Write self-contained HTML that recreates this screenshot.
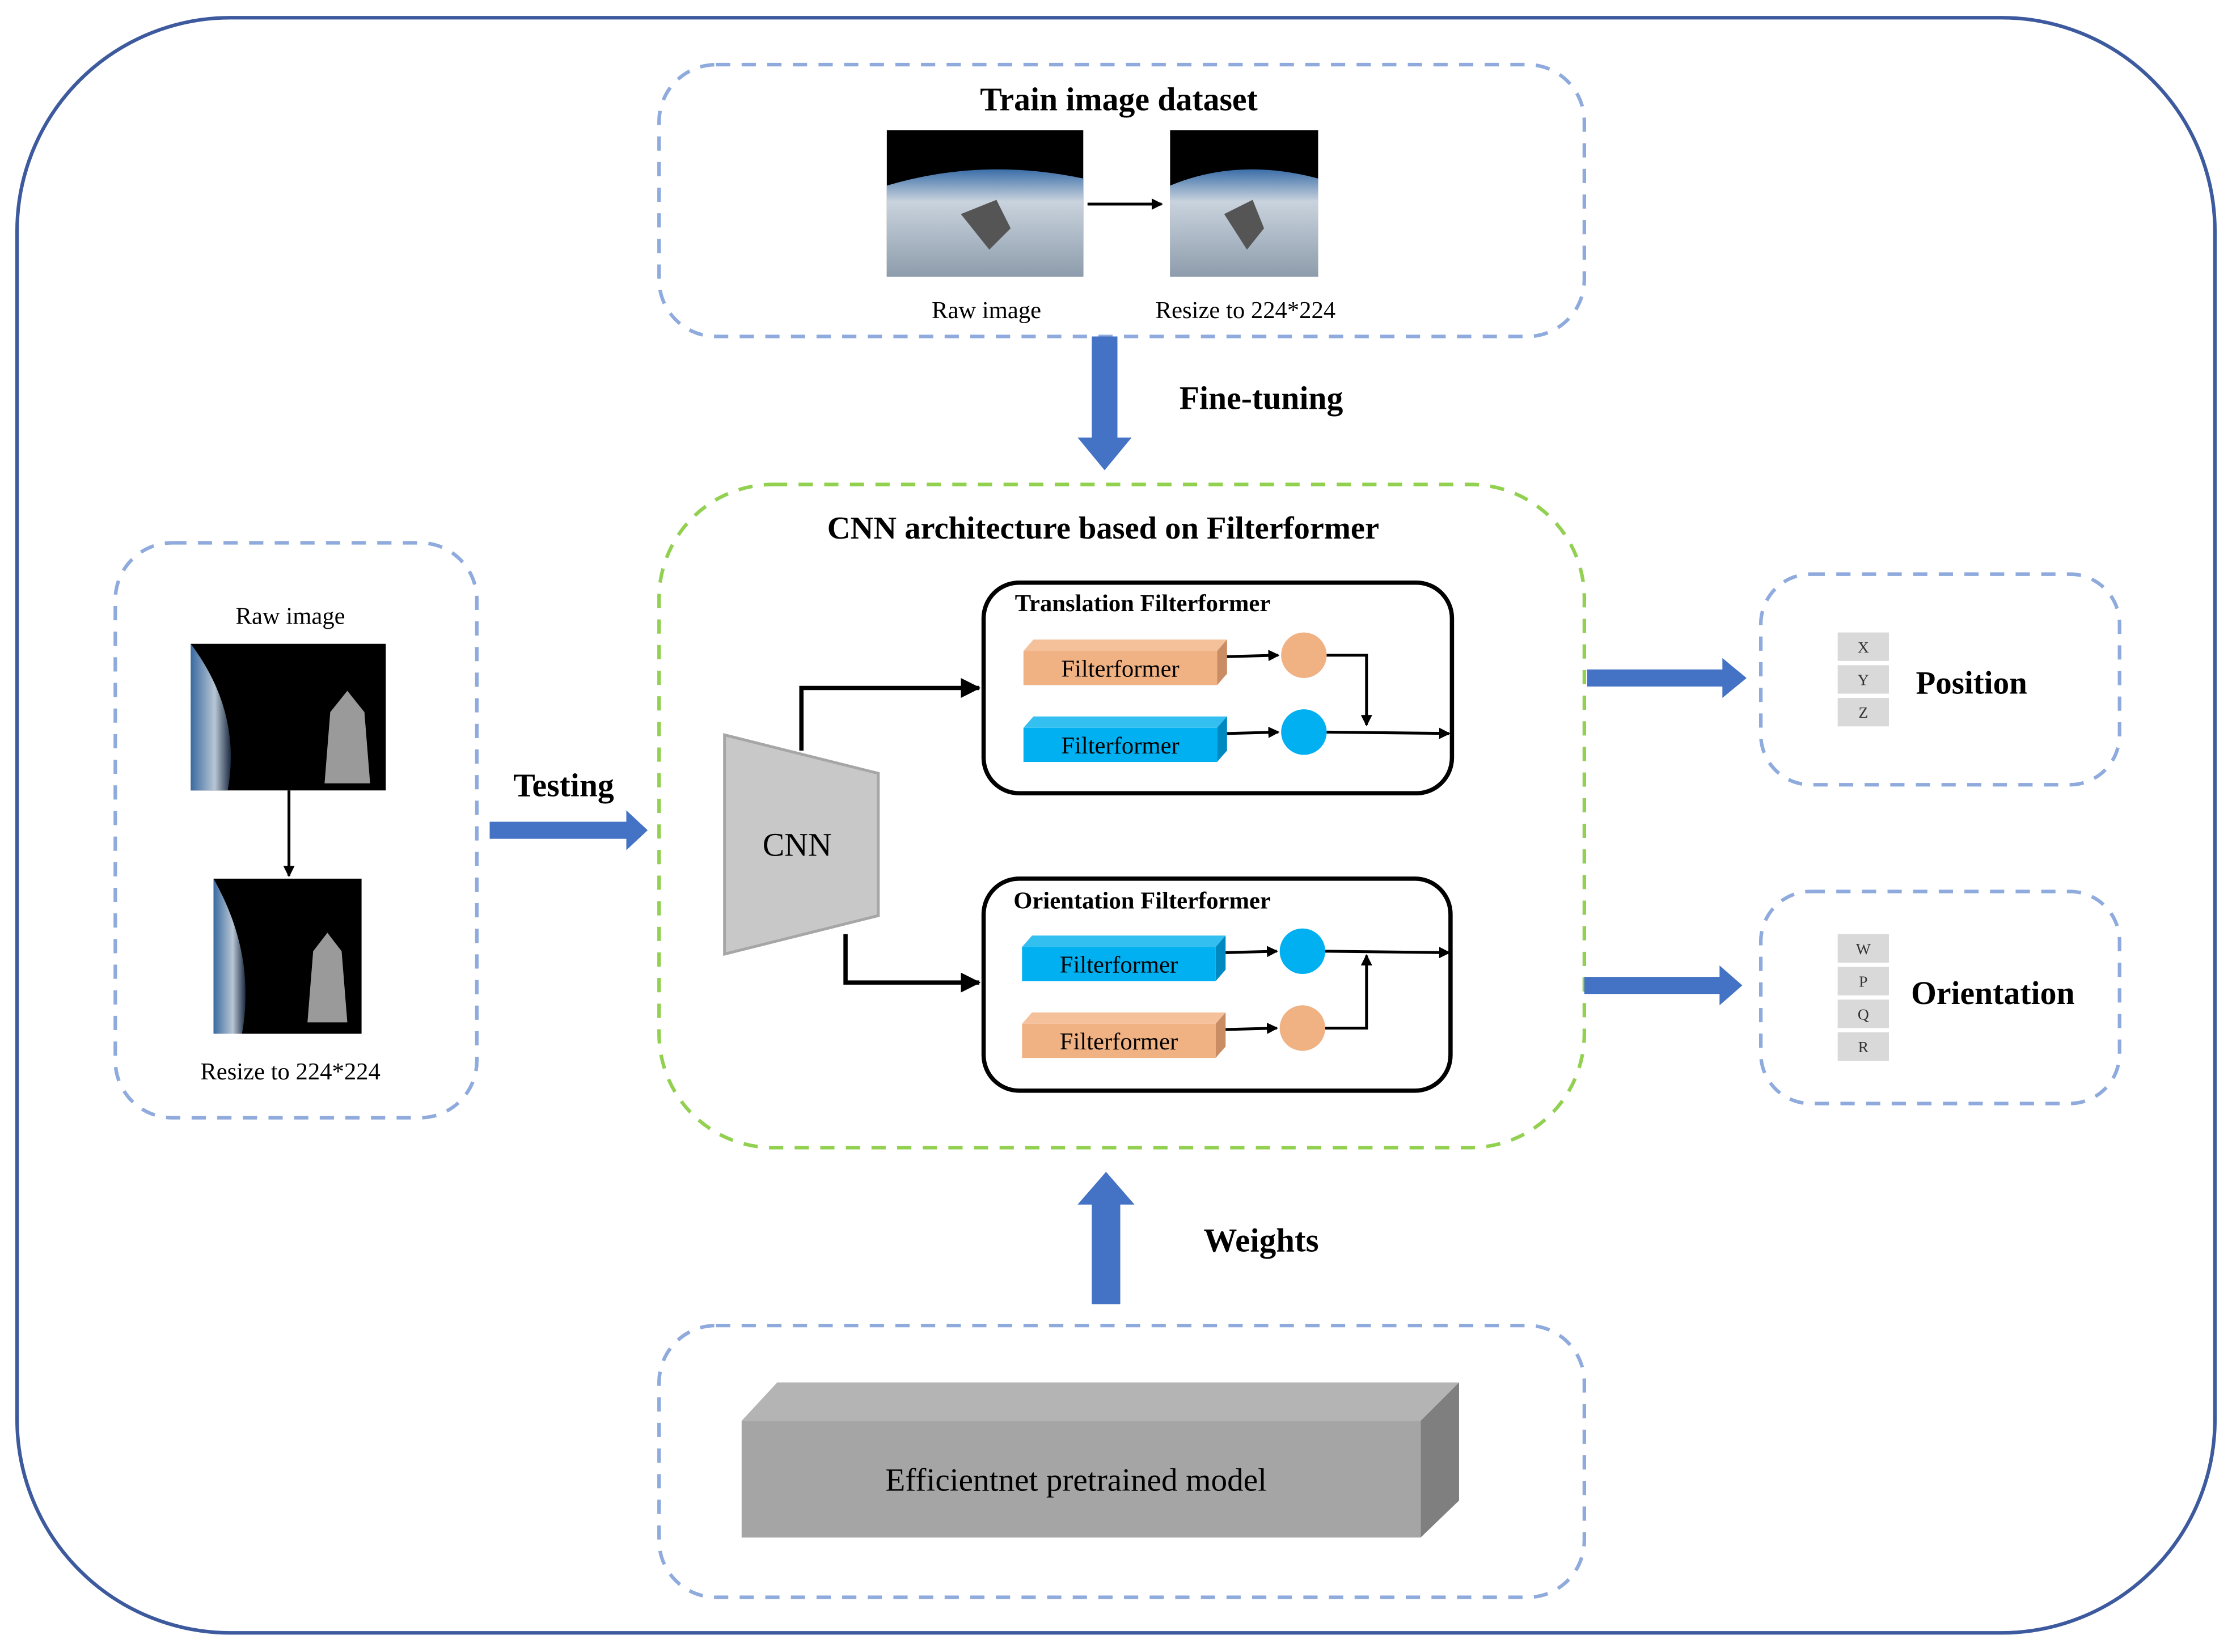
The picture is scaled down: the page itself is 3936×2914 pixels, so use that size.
<!DOCTYPE html>
<html><head><meta charset="utf-8"><style>html,body{margin:0;padding:0;background:#fff}svg{display:block}</style></head><body>
<svg width="3936" height="2914" viewBox="0 0 1568 1160" xmlns="http://www.w3.org/2000/svg" font-family="Liberation Serif, serif">
<defs>
<marker id="ah" markerWidth="8" markerHeight="8" refX="7" refY="4" orient="auto" markerUnits="userSpaceOnUse"><path d="M0,0 L8,4 L0,8z" fill="#000"/></marker>
<marker id="ah2" markerWidth="14" markerHeight="14" refX="13" refY="7" orient="auto" markerUnits="userSpaceOnUse"><path d="M0,0 L14,7 L0,14z" fill="#000"/></marker>
<linearGradient id="earth" x1="0" y1="0" x2="0" y2="1"><stop offset="0" stop-color="#3b6ea8"/><stop offset="0.3" stop-color="#c9d3dd"/><stop offset="1" stop-color="#8d9cac"/></linearGradient>
<linearGradient id="earth2" x1="0" y1="0" x2="1" y2="0"><stop offset="0" stop-color="#3a6aa0"/><stop offset="0.6" stop-color="#b8c6d4"/><stop offset="1" stop-color="#1b2a40"/></linearGradient>
</defs>
<rect x="12" y="12" width="1544" height="1135" rx="150" fill="none" stroke="#3d5a9e" stroke-width="2.5"/>
<g fill="none" stroke="#8faadc" stroke-width="2.5" stroke-dasharray="10,8">
<rect x="463" y="45" width="650" height="191" rx="40"/>
<rect x="81" y="381" width="254" height="404" rx="40"/>
<rect x="1237" y="403" width="252" height="148" rx="35"/>
<rect x="1237" y="626" width="252" height="149" rx="35"/>
<rect x="463" y="931" width="650" height="191" rx="40"/>
</g>
<rect x="463" y="340" width="650" height="466" rx="80" fill="none" stroke="#92d050" stroke-width="2.5" stroke-dasharray="10,8"/>
<text x="786" y="77" font-size="23" font-weight="bold" text-anchor="middle">Train image dataset</text>
<rect x="623" y="91" width="138" height="103" fill="#000"/>
<path d="M623,130 Q690,110 761,125 L761,194 L623,194z" fill="url(#earth)"/>
<path d="M675,150 l25,-10 l10,20 l-15,15z" fill="#555"/>
<rect x="822" y="91" width="104" height="103" fill="#000"/>
<path d="M822,130 Q870,110 926,125 L926,194 L822,194z" fill="url(#earth)"/>
<path d="M860,150 l20,-10 l8,20 l-12,15z" fill="#555"/>
<line x1="764" y1="143" x2="816" y2="143" stroke="#000" stroke-width="2" marker-end="url(#ah)"/>
<text x="693" y="223" font-size="17" text-anchor="middle">Raw image</text>
<text x="875" y="223" font-size="17" text-anchor="middle">Resize to 224*224</text>
<path d="M767,236 H785 V307 H795 L776,330 L757,307 H767z" fill="#4472c4"/>
<text x="886" y="287" font-size="23" font-weight="bold" text-anchor="middle">Fine-tuning</text>
<text x="775" y="378" font-size="22.5" font-weight="bold" text-anchor="middle">CNN architecture based on Filterformer</text>
<path d="M509,516 L617,543 L617,643 L509,670z" fill="#c8c8c8" stroke="#a6a6a6" stroke-width="2"/>
<text x="560" y="601" font-size="23" text-anchor="middle">CNN</text>
<path d="M563,527 V483 H688" fill="none" stroke="#000" stroke-width="3" marker-end="url(#ah2)"/>
<path d="M594,656 V690 H688" fill="none" stroke="#000" stroke-width="3" marker-end="url(#ah2)"/>
<rect x="691" y="409" width="329" height="148" rx="25" fill="none" stroke="#000" stroke-width="3"/>
<text x="713" y="429" font-size="17" font-weight="bold">Translation Filterformer</text>
<rect x="691" y="617" width="328" height="149" rx="25" fill="none" stroke="#000" stroke-width="3"/>
<text x="712" y="638" font-size="17" font-weight="bold">Orientation Filterformer</text>
<g font-size="17" text-anchor="middle">
<g><path d="M719,457 l7,-8 h136 l-7,8z" fill="#f4c19b"/><path d="M855,457 l7,-8 v24 l-7,8z" fill="#c98c63"/><rect x="719" y="457" width="136" height="24" fill="#f0b183"/><text x="787" y="475">Filterformer</text></g>
<g><path d="M719,511 l7,-8 h136 l-7,8z" fill="#33c0f0"/><path d="M855,511 l7,-8 v24 l-7,8z" fill="#0088c0"/><rect x="719" y="511" width="136" height="24" fill="#00b0f0"/><text x="787" y="529">Filterformer</text></g>
<g><path d="M718,665 l7,-8 h136 l-7,8z" fill="#33c0f0"/><path d="M854,665 l7,-8 v24 l-7,8z" fill="#0088c0"/><rect x="718" y="665" width="136" height="24" fill="#00b0f0"/><text x="786" y="683">Filterformer</text></g>
<g><path d="M718,719 l7,-8 h136 l-7,8z" fill="#f4c19b"/><path d="M854,719 l7,-8 v24 l-7,8z" fill="#c98c63"/><rect x="718" y="719" width="136" height="24" fill="#f0b183"/><text x="786" y="737">Filterformer</text></g>
</g>
<circle cx="916" cy="460" r="16" fill="#f0b183"/>
<circle cx="916" cy="514" r="16" fill="#00b0f0"/>
<circle cx="915" cy="668" r="16" fill="#00b0f0"/>
<circle cx="915" cy="722" r="16" fill="#f0b183"/>
<g fill="none" stroke="#000" stroke-width="2">
<line x1="862" y1="461" x2="898" y2="460" marker-end="url(#ah)"/>
<line x1="862" y1="515" x2="898" y2="514" marker-end="url(#ah)"/>
<line x1="861" y1="669" x2="897" y2="668" marker-end="url(#ah)"/>
<line x1="861" y1="723" x2="897" y2="722" marker-end="url(#ah)"/>
<path d="M932,460 H960 V509" marker-end="url(#ah)"/>
<line x1="932" y1="514" x2="1018" y2="515" marker-end="url(#ah)"/>
<line x1="931" y1="668" x2="1018" y2="669" marker-end="url(#ah)"/>
<path d="M931,722 H960 V671" marker-end="url(#ah)"/>
</g>
<text x="204" y="438" font-size="17" text-anchor="middle">Raw image</text>
<rect x="134" y="452" width="137" height="103" fill="#000"/>
<path d="M134,452 Q170,500 160,555 L134,555z" fill="url(#earth2)"/>
<path d="M232,500 l12,-15 l12,15 l4,50 h-32z" fill="#9a9a9a"/>
<line x1="203" y1="555" x2="203" y2="615" stroke="#000" stroke-width="2" marker-end="url(#ah)"/>
<rect x="150" y="617" width="104" height="109" fill="#000"/>
<path d="M150,617 Q180,670 170,726 L150,726z" fill="url(#earth2)"/>
<path d="M220,668 l10,-13 l10,13 l4,50 h-28z" fill="#9a9a9a"/>
<text x="204" y="758" font-size="17" text-anchor="middle">Resize to 224*224</text>
<path d="M344,577 H440 V569 L455,583 L440,597 V589 H344z" fill="#4472c4"/>
<text x="396" y="559" font-size="23" font-weight="bold" text-anchor="middle">Testing</text>
<path d="M1115,470 H1210 V462 L1227,476 L1210,490 V482 H1115z" fill="#4472c4"/>
<path d="M1113,686 H1208 V678 L1224,692 L1208,706 V698 H1113z" fill="#4472c4"/>
<g fill="#d9d9d9">
<rect x="1291" y="444" width="36" height="20"/><rect x="1291" y="467" width="36" height="20"/><rect x="1291" y="490" width="36" height="20"/>
<rect x="1291" y="656" width="36" height="20"/><rect x="1291" y="679" width="36" height="20"/><rect x="1291" y="702" width="36" height="20"/><rect x="1291" y="725" width="36" height="20"/>
</g>
<g font-size="11" text-anchor="middle" fill="#333">
<text x="1309" y="458">X</text><text x="1309" y="481">Y</text><text x="1309" y="504">Z</text>
<text x="1309" y="670">W</text><text x="1309" y="693">P</text><text x="1309" y="716">Q</text><text x="1309" y="739">R</text>
</g>
<text x="1385" y="487" font-size="22.7" font-weight="bold" text-anchor="middle">Position</text>
<text x="1400" y="705" font-size="23" font-weight="bold" text-anchor="middle">Orientation</text>
<path d="M767,916 H787 V846 H797 L777,823 L757,846 H767z" fill="#4472c4"/>
<text x="886" y="879" font-size="23.5" font-weight="bold" text-anchor="middle">Weights</text>
<path d="M521,998 L546,971 H1025 L998,998z" fill="#b4b4b4"/>
<path d="M998,998 L1025,971 V1054 L998,1080z" fill="#7f7f7f"/>
<rect x="521" y="998" width="477" height="82" fill="#a5a5a5"/>
<text x="756" y="1047" font-size="22.8" text-anchor="middle">Efficientnet pretrained model</text>
</svg>
</body></html>
